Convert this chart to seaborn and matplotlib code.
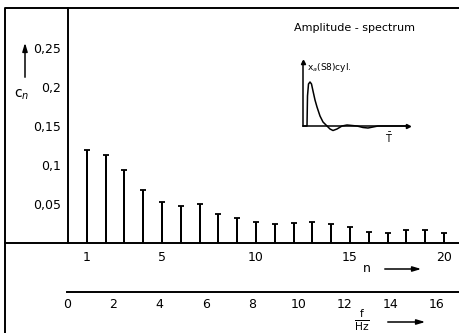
import numpy as np
import pandas as pd
import matplotlib.pyplot as plt
import seaborn as sns

# amplitude spectrum values
n_values = list(range(1, 21))
c_values = [0.119, 0.113, 0.094, 0.068, 0.053, 0.047, 0.050, 0.037, 0.032, 0.027,
            0.024, 0.026, 0.027, 0.024, 0.021, 0.014, 0.013, 0.017, 0.017, 0.013]
y_ticks = [0.05, 0.10, 0.15, 0.20, 0.25]
y_tick_labels = ["0,05", "0,1", "0,15", "0,2", "0,25"]
n_ticks = [-1, 1, 5, 10, 15, 20]
n_tick_labels = ["", "1", "5", "10", "15", "20"]
f_ticks = list(range(0, 17))
f_tick_labels = [str(f) if f % 2 == 0 else "" for f in f_ticks]

# small pulse in the inset (time vs amplitude, arbitrary units)
pulse_t = [0, 4, 4.5, 5.5, 7, 8.5, 10, 12, 14, 17, 20, 24, 27, 30, 34, 39, 44, 49, 54, 60, 65, 70, 75, 105]
pulse_x = [0, 0, 30, 42, 44, 42, 35, 26, 19, 10, 4, 0, -3, -4.5, -3, 0, 1, 0.5, 0, -1.5, -2, -1, 0, 0]

spectrum = pd.DataFrame({"n": n_values, "c": c_values})
pulse = pd.DataFrame({"t": pulse_t, "x": pulse_x})

sns.set_style("white")
plt.rcParams["font.family"] = ["DejaVu Sans"]
plt.rcParams["axes.linewidth"] = 1.4
for key in ["text.color", "axes.labelcolor", "xtick.color", "ytick.color", "axes.edgecolor"]:
    plt.rcParams[key] = "black"

W, H = 459, 333
fig = plt.figure(figsize=(W / 100, H / 100), dpi=100)


def fx(x):
    return x / W


def fy(y):
    return 1 - y / H


# outer frame (left and top lines)
frame = fig.add_axes([fx(5), 0, 1 - fx(5), fy(8)])
frame.set_axis_off()
frame.plot([0, 0, 1], [0, 1, 1], color="black", lw=1.4, transform=frame.transAxes, clip_on=False)

# main stem plot
ax = fig.add_axes([fx(5), fy(243), 1 - fx(5), fy(8) - fy(243)])
ax.patch.set_alpha(0)
sns.barplot(data=spectrum, x="n", y="c", native_scale=True, width=0.1,
            color="black", linewidth=0, saturation=1, ax=ax)
sns.scatterplot(data=spectrum, x="n", y="c", marker="_", s=22, linewidth=1.3,
                color="black", ax=ax, zorder=3)
ax.set_xlim((5 - 68) / 18.8, (459 - 68) / 18.8)
ax.set_ylim(0, 235 / 780)
for side in ["top", "right"]:
    ax.spines[side].set_visible(False)
ax.spines["left"].set_position(("data", 0))
ax.set_yticks(y_ticks, y_tick_labels)
ax.set_xticks(n_ticks, n_tick_labels)
ax.tick_params(axis="y", direction="inout", length=6, width=1.2, pad=2, labelsize=9)
ax.tick_params(axis="x", direction="inout", length=6, width=1.2, pad=3, labelsize=9)
ax.set_xlabel("")
ax.set_ylabel("")

# frequency axis
axf = fig.add_axes([fx(5), fy(292), 1 - fx(5), 0.01])
axf.patch.set_alpha(0)
axf.set_xlim((5 - 67) / 23.125, (459 - 67) / 23.125)
for side in ["top", "right", "left"]:
    axf.spines[side].set_visible(False)
axf.spines["bottom"].set_bounds(0, (459 - 67) / 23.125)
axf.set_yticks([])
axf.set_xticks(f_ticks, f_tick_labels)
axf.tick_params(axis="x", direction="in", length=3, width=1.1, pad=4, labelsize=9)

# axis labels with arrows
fig.text(fx(22), fy(95), r"c$_n$", fontsize=10, ha="center", va="center")
fig.text(fx(367), fy(268), "n", fontsize=9, ha="center", va="center")
fig.text(fx(362), fy(320), r"$\frac{\mathrm{f}}{\mathrm{Hz}}$", fontsize=11, ha="center", va="center")
arrow = dict(arrowstyle="-|>,head_length=0.5,head_width=0.15", color="black", lw=1.1)
fig.add_artist(plt.Annotation("", xy=(fx(25), fy(40)), xytext=(fx(25), fy(80)),
                              xycoords="figure fraction", arrowprops=arrow))
fig.add_artist(plt.Annotation("", xy=(fx(424), fy(269)), xytext=(fx(382), fy(269)),
                              xycoords="figure fraction", arrowprops=arrow))
fig.add_artist(plt.Annotation("", xy=(fx(428), fy(322)), xytext=(fx(385), fy(322)),
                              xycoords="figure fraction", arrowprops=arrow))

fig.text(fx(354), fy(28), "Amplitude - spectrum", fontsize=8, ha="center", va="center")

# inset pulse
axi = fig.add_axes([fx(303), fy(140), fx(408) - fx(303), fy(62) - fy(140)])
axi.patch.set_alpha(0)
sns.lineplot(data=pulse, x="t", y="x", color="black", lw=1.1, ax=axi)
axi.set_xlim(0, 105)
axi.set_ylim(-14, 64)
for side in ["top", "right"]:
    axi.spines[side].set_visible(False)
axi.spines["bottom"].set_position(("data", 0))
axi.spines["left"].set_bounds(0, 64)
axi.spines["left"].set_linewidth(1.1)
axi.spines["bottom"].set_linewidth(1.1)
axi.set_xticks([])
axi.set_yticks([])
axi.set_xlabel("")
axi.set_ylabel("")
axi.plot([0], [64], marker="^", ms=3, color="black", clip_on=False)
axi.plot([105], [0], marker=">", ms=3, color="black", clip_on=False)
axi.text(4, 58, r"x$_a$(S8)cyl.", fontsize=6.5, ha="left", va="center")
fig.text(fx(389), fy(138), r"$\bar{\mathrm{T}}$", fontsize=7, ha="center", va="center")

fig.savefig("out.png", dpi=100)
